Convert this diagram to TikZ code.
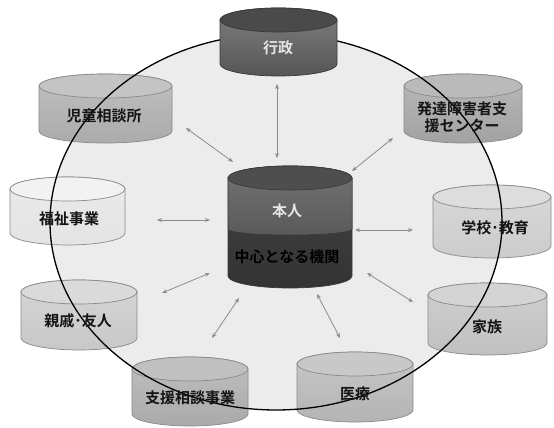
\documentclass[tikz,border=0pt]{standalone}
\usepackage{fontspec}
\newfontfamily\jp{Noto Sans CJK JP}[BoldFont={Noto Sans CJK JP Bold}]
\usetikzlibrary{arrows.meta}
\definecolor{bgin}{HTML}{ECECEC}
\definecolor{edgec}{HTML}{8A8A8A}
\definecolor{darkedge}{HTML}{3A3A3A}
\definecolor{arrowc}{HTML}{8C8C8C}
\definecolor{gyoB}{HTML}{555555}\definecolor{gyoC}{HTML}{4A4A4A}
\definecolor{jidoB}{HTML}{ABABAB}\definecolor{jidoC}{HTML}{C4C4C4}
\definecolor{hatB}{HTML}{A2A2A2}\definecolor{hatC}{HTML}{BABABA}
\definecolor{fukuB}{HTML}{E4E4E4}\definecolor{fukuC}{HTML}{F2F2F2}
\definecolor{gakuB}{HTML}{CCCCCC}\definecolor{gakuC}{HTML}{DDDDDD}
\definecolor{shinB}{HTML}{C8C8C8}\definecolor{shinC}{HTML}{DADADA}
\definecolor{kazB}{HTML}{C0C0C0}\definecolor{kazC}{HTML}{D4D4D4}
\definecolor{shiB}{HTML}{AAAAAA}\definecolor{shiC}{HTML}{C0C0C0}
\definecolor{iryB}{HTML}{B4B4B4}\definecolor{iryC}{HTML}{C8C8C8}
\definecolor{honU}{HTML}{5A5A5A}\definecolor{honL}{HTML}{444444}\definecolor{honC}{HTML}{4E4E4E}
\newcommand\drum[8]{%
 \pgfmathsetmacro\dcx{(#2+#3)/2}%
 \pgfmathsetmacro\drx{(#3-#2)/2}%
 \pgfmathsetmacro\dw{#3-#2}%
 \pgfmathsetmacro\dh{#5-#4}%
 \node[drumbox,minimum width=\dw pt,minimum height=\dh pt] (#1) at (\dcx,{(#4+#5)/2}) {};
 \shadedraw[top color=#6!75!white,bottom color=#6,draw=#8,line width=0.7pt]
   (#2,#4+12) -- (#2,#5-12) arc[start angle=180,end angle=360,x radius=\drx pt,y radius=12pt]
   -- (#3,#4+12) arc[start angle=0,end angle=180,x radius=\drx pt,y radius=12pt] -- cycle;
 \filldraw[fill=#7,draw=#8,line width=0.7pt] (\dcx,#4+12) ellipse[x radius=\drx pt,y radius=12pt];
}
\begin{document}
\begin{tikzpicture}[x=1pt,y=-1pt,
  drumbox/.style={rectangle,inner sep=0pt,outer sep=0pt},
  lbl/.style={font=\jp\bfseries\fontsize{15}{17}\selectfont,text=black!92,inner sep=1pt,align=center},
  wlbl/.style={lbl,text=white!90!black},
  conn/.style={draw=arrowc,line width=0.8pt,{Stealth[length=5pt,width=4pt]}-{Stealth[length=5pt,width=4pt]}}]
\useasboundingbox (0,0) rectangle (554,428);
\fill[white] (0,0) rectangle (554,428);
\fill[bgin] (276,222) ellipse[x radius=226pt,y radius=188pt];
% peripheral drums
\drum{jido}{39}{172}{74}{143}{jidoB}{jidoC}{edgec}
\drum{hat}{404}{522}{74}{143}{hatB}{hatC}{edgec}
\drum{fuku}{10}{125}{177}{245}{fukuB}{fukuC}{edgec}
\drum{gaku}{433}{551}{185}{258}{gakuB}{gakuC}{edgec}
\drum{shin}{21}{137}{280}{350}{shinB}{shinC}{edgec}
\drum{kaz}{428}{547}{283}{355}{kazB}{kazC}{edgec}
\drum{shi}{132}{248}{357}{426}{shiB}{shiC}{edgec}
\drum{iry}{297}{413}{352}{422}{iryB}{iryC}{edgec}
% big ellipse outline
\draw[black,line width=1.3pt] (276,222) ellipse[x radius=226pt,y radius=188pt];
% top drum
\drum{gyo}{220}{337}{8}{76}{gyoB}{gyoC}{darkedge}
% centre drum
\node[drumbox,minimum width=124pt,minimum height=122pt] (hon) at (290,227) {};
\shadedraw[top color=honL,bottom color=honL!75!black,draw=darkedge,line width=0.7pt]
  (228,178) -- (228,276) arc[start angle=180,end angle=360,x radius=62pt,y radius=12pt]
  -- (352,178) arc[start angle=0,end angle=180,x radius=62pt,y radius=12pt] -- cycle;
\shadedraw[top color=honU!85!white,bottom color=honU,draw=darkedge,line width=0.5pt]
  (228,178) -- (228,229) arc[start angle=180,end angle=360,x radius=62pt,y radius=6pt]
  -- (352,178) arc[start angle=0,end angle=180,x radius=62pt,y radius=12pt] -- cycle;
\filldraw[fill=honC,draw=darkedge,line width=0.7pt] (290,178) ellipse[x radius=62pt,y radius=12pt];
% labels
\node[wlbl] (t-gyo) at (278,48) {行政};
\node[lbl] (t-jido) at (104,116) {児童相談所};
\node[lbl] (t-hat) at (462,117) {発達障害者支\\援センター};
\node[lbl] (t-fuku) at (69,219) {福祉事業};
\node[lbl] (t-gaku) at (495,228) {学校･教育};
\node[lbl] (t-shin) at (78,321) {親戚･友人};
\node[lbl] (t-kaz) at (487,327) {家族};
\node[lbl] (t-shi) at (190,398) {支援相談事業};
\node[lbl] (t-iry) at (355,394) {医療};
\node[wlbl] (t-hon) at (287,211) {本人};
\node[lbl,text=black] (t-chu) at (287,257) {中心となる機関};
% arrow end points
\coordinate (a1s) at (277,84);  \coordinate (a1e) at (277,158);
\coordinate (a2s) at (186,128); \coordinate (a2e) at (233,162);
\coordinate (a3s) at (393,138); \coordinate (a3e) at (352,171);
\coordinate (a4s) at (157,220); \coordinate (a4e) at (210,220);
\coordinate (a5s) at (355,230); \coordinate (a5e) at (413,230);
\coordinate (a6s) at (162,293); \coordinate (a6e) at (210,273);
\coordinate (a7s) at (212,338); \coordinate (a7e) at (239,298);
\coordinate (a8s) at (317,294); \coordinate (a8e) at (340,338);
\coordinate (a9s) at (367,273); \coordinate (a9e) at (413,302);
\foreach \i in {1,...,9}{\draw[conn] (a\i s) -- (a\i e);}
\end{tikzpicture}
\end{document}
